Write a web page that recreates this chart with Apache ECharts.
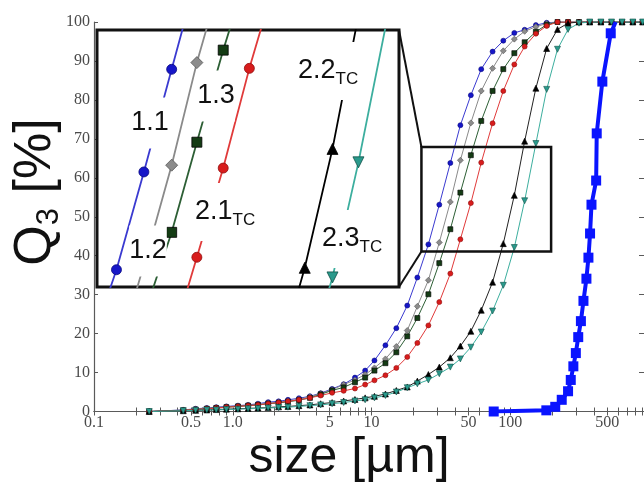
<!DOCTYPE html>
<html>
<head>
<meta charset="utf-8">
<script src="https://cdn.jsdelivr.net/npm/echarts@6/dist/echarts.min.js"></script>
<style>
html,body{margin:0;padding:0;background:#fff;overflow:hidden;}
#c{width:650px;height:484px;}
</style>
</head>
<body>
<div id="c"></div>
<script>
// ---------- data ----------
// particle size classes [µm]
const sizes = [0.25, 0.44, 0.54, 0.65, 0.76, 0.9, 1.09, 1.29, 1.52, 1.8,
  2.14, 2.5, 3.0, 3.6, 4.3, 5.2, 6.3, 7.6, 9.0, 10.5,
  12.6, 15.1, 18.1, 21.4, 25.7, 30.8, 37.0, 43.7, 52.0, 61.8,
  74.6, 89.1, 107, 127, 153, 183, 219, 261, 313, 374,
  450, 537, 640, 765, 900];
// cumulative Q3 [%]
const q3_11 = [0, 0.4, 0.7, 0.9, 1.1, 1.3, 1.5, 1.7, 2.0, 2.4,
  2.6, 3.0, 3.4, 3.9, 4.7, 5.8, 7.0, 8.7, 10.5, 13.1,
  17.0, 21.4, 27.2, 34.4, 42.9, 53.1, 63.8, 73.5, 81.2, 87.9,
  92.4, 95.2, 97.2, 98.0, 99.2, 99.8, 100, 100, 100, 100,
  100, 100, 100, 100, 100];
const q3_12 = [0, 0.4, 0.6, 0.8, 1.0, 1.2, 1.4, 1.6, 1.8, 2.1,
  2.4, 2.7, 3.1, 3.8, 4.6, 5.6, 6.9, 8.1, 9.5, 11.2,
  13.5, 16.7, 20.8, 27.0, 33.7, 43.4, 53.8, 64.5, 74.1, 82.3,
  88.1, 92.6, 95.6, 97.6, 98.8, 99.6, 100, 100, 100, 100,
  100, 100, 100, 100, 100];
const q3_13 = [0, 0.3, 0.5, 0.7, 0.9, 1.1, 1.3, 1.5, 1.7, 2.0,
  2.2, 2.5, 2.9, 3.5, 4.4, 5.4, 6.2, 7.5, 8.7, 10.5,
  12.4, 15.2, 19.3, 24.0, 30.1, 38.1, 46.8, 56.2, 65.8, 74.6,
  82.3, 87.9, 92.0, 94.8, 97.5, 99.3, 100, 100, 100, 100,
  100, 100, 100, 100, 100];
const q3_21 = [0, 0.3, 0.5, 0.7, 0.9, 1.1, 1.3, 1.5, 1.7, 2.0,
  2.3, 2.6, 3.0, 3.5, 4.1, 4.8, 5.3, 5.9, 6.9, 8.0,
  9.3, 11.2, 14.0, 17.6, 22.1, 28.1, 35.4, 44.2, 53.5, 63.9,
  74.0, 82.3, 89.1, 93.7, 97.0, 99.0, 100, 100, 100, 100,
  100, 100, 100, 100, 100];
const q3_22 = [0, 0.2, 0.3, 0.4, 0.5, 0.6, 0.7, 0.8, 0.9, 1.0,
  1.2, 1.3, 1.5, 1.7, 2.0, 2.3, 2.7, 3.1, 3.5, 3.9,
  4.5, 5.4, 6.3, 7.8, 9.5, 11.4, 13.8, 16.8, 20.6, 26.0,
  33.2, 43.1, 55.5, 69.4, 83.0, 93.2, 98.1, 99.7, 100, 100,
  100, 100, 100, 100, 100];
const q3_23 = [0, 0.2, 0.3, 0.4, 0.4, 0.5, 0.6, 0.7, 0.8, 0.9,
  1.0, 1.1, 1.3, 1.5, 1.7, 2.0, 2.3, 2.7, 3.0, 3.5,
  4.1, 5.0, 6.1, 7.1, 8.1, 9.7, 11.4, 13.5, 16.5, 20.4,
  25.8, 32.4, 42.1, 54.1, 68.8, 82.7, 93.0, 98.1, 99.7, 100,
  100, 100, 100, 100, 100];
// feed material (thick blue curve)
const feedSize = [76, 182, 211, 235, 261, 273, 285, 297, 309, 323, 337, 354, 366, 376, 385, 416, 420, 461, 530, 575];
const feedQ3 = [0, 0.3, 1.2, 3.0, 5.2, 8.1, 11.6, 15.0, 19.1, 23.2, 28.4, 34.1, 39.5, 45.7, 53.1, 59.3, 71.4, 84.7, 97.1, 100];

// axis tick labels
const xLabelValues = [0.1, 0.5, 1, 5, 10, 50, 100, 500];
const xLabelTexts = ['0.1', '0.5', '1.0', '5', '10', '50', '100', '500'];
const xTickValues = [0.1,0.2,0.3,0.4,0.5,0.6,0.7,0.8,0.9,
  1,2,3,4,5,6,7,8,9, 10,20,30,40,50,60,70,80,90,
  100,200,300,400,500,600,700,800,900,1000];

// zoom window (main plot) and inset ranges
const zoomX = [22.9, 197];
const zoomY = [41.1, 67.9];
const insetX = [22.6, 166];
const insetY = [41.1, 67.9];

// ---------- chart ----------
const chart = echarts.init(document.getElementById('c'), null, {renderer: 'canvas'});

function pairs(xs, ys) { return xs.map((x, i) => [x, ys[i]]); }

const styles = [
  {name: '1.1', data: q3_11, line: '#3a3ad0', fill: '#1616c8', edge: '#0a0a80', symbol: 'circle', s: 5, is: 10, rot: 0},
  {name: '1.2', data: q3_12, line: '#8a8a8a', fill: '#8c8c8c', edge: '#555', symbol: 'diamond', s: 6, is: 12, rot: 0},
  {name: '1.3', data: q3_13, line: '#2d5f35', fill: '#143c14', edge: '#000', symbol: 'rect', s: 5, is: 10, rot: 0},
  {name: '2.1TC', data: q3_21, line: '#e03a3a', fill: '#d81c1c', edge: '#901010', symbol: 'circle', s: 5, is: 10, rot: 0},
  {name: '2.2TC', data: q3_22, line: '#222', fill: '#000', edge: '#000', symbol: 'triangle', s: 6, is: 11, rot: 0},
  {name: '2.3TC', data: q3_23, line: '#3cae9e', fill: '#2a9a8c', edge: '#105048', symbol: 'triangle', s: 6, is: 11, rot: 180}
];

const series = [];
styles.forEach(st => {
  series.push({
    name: st.name, type: 'line', xAxisIndex: 0, yAxisIndex: 0,
    data: pairs(sizes, st.data), symbol: st.symbol, symbolSize: st.s, symbolRotate: st.rot,
    showAllSymbol: true, z: 2,
    lineStyle: {color: st.line, width: 1},
    itemStyle: {color: st.fill, borderColor: st.edge, borderWidth: 0.6}
  });
});
series.push({
  name: 'feed', type: 'line', xAxisIndex: 0, yAxisIndex: 0,
  data: pairs(feedSize, feedQ3).map((p, i) => i === feedSize.length - 1 ? {value: p, symbol: 'none'} : p),
  symbol: 'rect', symbolSize: 10, showAllSymbol: true, z: 3,
  lineStyle: {color: '#0a14ff', width: 4},
  itemStyle: {color: '#0a14ff'}
});
styles.forEach(st => {
  series.push({
    name: st.name + ' inset', type: 'line', xAxisIndex: 2, yAxisIndex: 2,
    data: pairs(sizes, st.data), symbol: st.symbol, symbolSize: st.is, symbolRotate: st.rot,
    showAllSymbol: true, clip: true, z: 6,
    lineStyle: {color: st.line === '#222' ? '#000' : st.line, width: 1.8},
    itemStyle: {color: st.fill, borderColor: st.edge, borderWidth: 0.8}
  });
});

const axisGray = '#5a5a5a';
const labelFont = {color: '#4a4a4a', fontFamily: 'Liberation Serif', fontSize: 16};

chart.setOption({
  animation: false,
  backgroundColor: '#ffffff',
  grid: [
    {left: 94, top: 22, width: 555, height: 389.5},
    {left: 97, top: 30, width: 302, height: 257, show: true, backgroundColor: '#ffffff',
     borderColor: '#111', borderWidth: 3, z: 5}
  ],
  xAxis: [
    {type: 'log', logBase: 10, gridIndex: 0, min: 0.1, max: 1000, position: 'bottom',
     axisLine: {show: true, lineStyle: {color: axisGray, width: 1.2}},
     axisTick: {show: true, inside: true, length: 4, customValues: xTickValues, lineStyle: {color: axisGray}},
     axisLabel: Object.assign({customValues: xLabelValues, margin: 3,
       formatter: v => {
         const i = xLabelValues.findIndex(t => Math.abs(Math.log10(t) - Math.log10(v)) < 1e-6);
         return i >= 0 ? xLabelTexts[i] : '';
       }}, labelFont),
     splitLine: {show: false}, minorTick: {show: false}},
    {type: 'log', logBase: 10, gridIndex: 0, min: 0.1, max: 1000, position: 'top',
     axisLine: {show: true, lineStyle: {color: axisGray, width: 1.2}},
     axisTick: {show: true, inside: true, length: 4, customValues: xTickValues, lineStyle: {color: axisGray}},
     axisLabel: {show: false}, splitLine: {show: false}},
    {type: 'log', logBase: 10, gridIndex: 1, min: insetX[0], max: insetX[1], show: false}
  ],
  yAxis: [
    {type: 'value', gridIndex: 0, min: 0, max: 100, interval: 10, position: 'left',
     axisLine: {show: true, lineStyle: {color: axisGray, width: 1.2}},
     axisTick: {show: true, inside: true, length: 4, lineStyle: {color: axisGray}},
     axisLabel: Object.assign({margin: 4}, labelFont),
     splitLine: {show: false}},
    {type: 'value', gridIndex: 0, min: 0, max: 100, interval: 10, position: 'right',
     axisLine: {show: true, lineStyle: {color: axisGray, width: 1.2}},
     axisTick: {show: true, inside: true, length: 10, lineStyle: {color: axisGray}},
     axisLabel: {show: false}, splitLine: {show: false}},
    {type: 'value', gridIndex: 1, min: insetY[0], max: insetY[1], show: false}
  ],
  series: series
});

// zoom window + connectors placed through the axes
const tl = chart.convertToPixel({gridIndex: 0}, [zoomX[0], zoomY[1]]);
const br = chart.convertToPixel({gridIndex: 0}, [zoomX[1], zoomY[0]]);
const c1 = chart.convertToPixel({gridIndex: 1}, [insetX[1], insetY[1]]);
const c2 = chart.convertToPixel({gridIndex: 1}, [insetX[1], insetY[0]]);

const sans = 'Liberation Sans, Arial, sans-serif';
function tcLabel(main, x, y) {
  return {
    type: 'text', x: x, y: y, z: 20,
    style: {
      text: '{m|' + main + '}{s|TC}', align: 'left', verticalAlign: 'middle',
      backgroundColor: '#fff', padding: [12, 0],
      rich: {
        m: {fontSize: 27, fontFamily: sans, fill: '#111', lineHeight: 34},
        s: {fontSize: 17, fontFamily: sans, fill: '#111', lineHeight: 16, verticalAlign: 'bottom'}
      }
    }
  };
}
function plainLabel(t, x, y) {
  return {
    type: 'text', x: x, y: y, z: 20,
    style: {text: t, align: 'center', verticalAlign: 'middle', fontSize: 27, fontFamily: sans,
      fill: '#111', backgroundColor: '#fff', padding: [12, 0]}
  };
}

chart.setOption({
  graphic: [
    {type: 'rect', z: 10, shape: {x: tl[0], y: tl[1], width: br[0] - tl[0], height: br[1] - tl[1]},
     style: {fill: 'none', stroke: '#111', lineWidth: 2.5}},
    {type: 'line', z: 10, shape: {x1: c1[0], y1: c1[1], x2: tl[0], y2: tl[1]}, style: {stroke: '#111', lineWidth: 2}},
    {type: 'line', z: 10, shape: {x1: c2[0], y1: c2[1], x2: tl[0], y2: br[1]}, style: {stroke: '#111', lineWidth: 2}},
    plainLabel('1.1', 150, 123),
    plainLabel('1.3', 216, 96),
    plainLabel('1.2', 148, 251),
    tcLabel('2.1', 195, 212),
    tcLabel('2.2', 298, 71),
    tcLabel('2.3', 322, 239),
    {type: 'text', x: 36, y: 192, rotation: Math.PI / 2, z: 20,
     style: {text: '{q|Q}{s|3}{q| [%]}', align: 'center', verticalAlign: 'middle',
       rich: {
         q: {fontSize: 52, fontFamily: sans, fill: '#111', lineHeight: 58},
         s: {fontSize: 31, fontFamily: sans, fill: '#111', lineHeight: 32, verticalAlign: 'bottom'}
       }}},
    {type: 'text', x: 349, y: 458, z: 20,
     style: {text: 'size [µm]', align: 'center', verticalAlign: 'middle', fontSize: 50,
       fontFamily: sans, fill: '#111'}}
  ]
});
</script>
</body>
</html>
